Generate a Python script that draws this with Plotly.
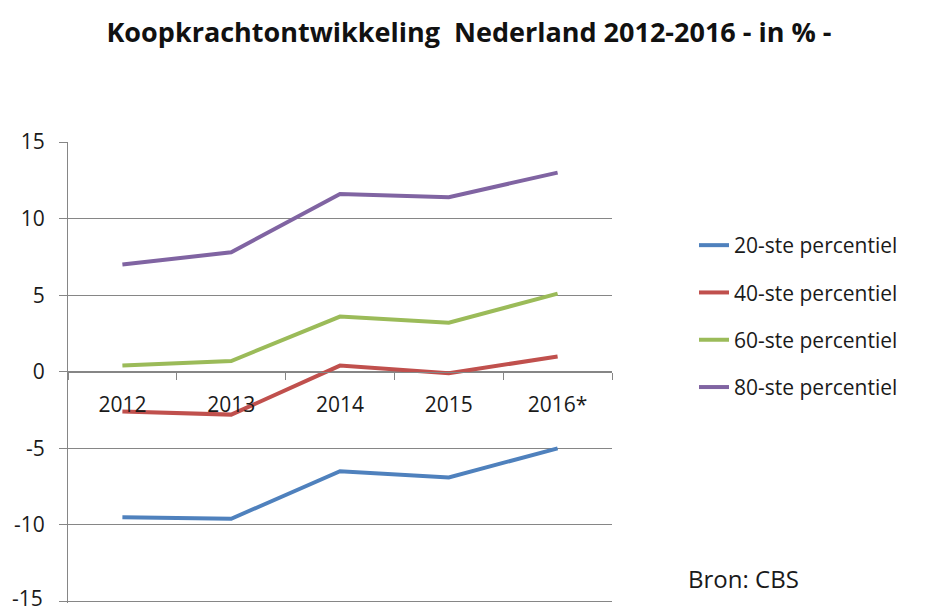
import plotly.graph_objects as go

years = ["2012", "2013", "2014", "2015", "2016*"]
p20 = [-9.5, -9.6, -6.5, -6.9, -5.0]
p40 = [-2.6, -2.8, 0.4, -0.1, 1.0]
p60 = [0.4, 0.7, 3.6, 3.2, 5.1]
p80 = [7.0, 7.8, 11.6, 11.4, 13.0]

series_names = ["20-ste percentiel", "40-ste percentiel", "60-ste percentiel", "80-ste percentiel"]
series_values = [p20, p40, p60, p80]
colors = ["#4F81BD", "#C0504D", "#9BBB59", "#8064A2"]

y_tickvals = [-15, -10, -5, 0, 5, 10, 15]
y_ticktext = ["-15", "-10", "-5", "0", "5", "10", "15"]

FONT = "Open Sans, Lato, DejaVu Sans, sans-serif"
TXT = "#1a1a1a"

# page body has an 8px margin: figure drawn at (8,8) in the window
W, H = 927, 599
PL, PT = 60, 134          # plot area left / top inside the figure
PW, PH = 544, 461          # plot area size

fig = go.Figure()
for name, vals, col in zip(series_names, series_values, colors):
    fig.add_trace(go.Scatter(
        x=years, y=vals, mode="lines", name=name, legendgroup=name,
        line=dict(color=col, width=4),
    ))

annotations = [dict(
    text="Bron: CBS", xref="paper", yref="paper",
    x=(686 - 68) / PW, xanchor="left",
    y=(603 - 578) / PH, yanchor="middle",
    showarrow=False, font=dict(family=FONT, size=24, color=TXT),
)]
# lowest tick label sits right at the page edge, as in the original
annotations.append(dict(
    text=y_ticktext[0], xref="paper", yref="y",
    x=-23 / PW, xanchor="right", y=y_tickvals[0], yanchor="middle",
    yshift=3,
    showarrow=False, font=dict(family=FONT, size=21, color=TXT),
))

fig.update_layout(
    width=W, height=H,
    paper_bgcolor="white", plot_bgcolor="white",
    margin=dict(l=PL, r=W - PL - PW, t=PT, b=H - PT - PH, autoexpand=False),
    title=dict(
        text="<b>Koopkrachtontwikkeling  Nederland 2012-2016 - in % -</b>",
        x=(469 - 8) / W, xanchor="center", xref="container",
        y=1 - (33 - 8) / H, yanchor="middle", yref="container",
        font=dict(family=FONT, size=27, color="#111111"),
    ),
    font=dict(family=FONT, size=21, color=TXT),
    showlegend=True,
    legend=dict(
        x=(694 - 68) / PW, xanchor="left",
        y=1 - (225 - 142) / PH, yanchor="top",
        font=dict(family=FONT, size=21, color=TXT),
        tracegroupgap=17,
        bgcolor="rgba(0,0,0,0)",
    ),
    xaxis=dict(
        type="category", automargin=False,
        anchor="free", position=15.1 / 30.1,
        showline=True, linecolor="#868686", linewidth=1,
        ticks="outside", tickson="boundaries", ticklen=7, tickcolor="#868686",
        showgrid=False, zeroline=False,
        ticklabelstandoff=14,
        tickfont=dict(family=FONT, size=21, color=TXT),
        range=[-0.5, 4.5],
    ),
    yaxis=dict(
        range=[-15.1, 15], tickvals=y_tickvals, ticktext=y_ticktext,
        automargin=False,
        showline=True, linecolor="#868686", linewidth=1,
        showgrid=True, gridcolor="#868686", gridwidth=1,
        zeroline=False,
        ticks="outside", ticklen=8, tickcolor="#868686",
        ticklabelstandoff=10,
        tickfont=dict(family=FONT, size=21, color=TXT),
    ),
    annotations=annotations,
)

fig.write_html("out.html")
